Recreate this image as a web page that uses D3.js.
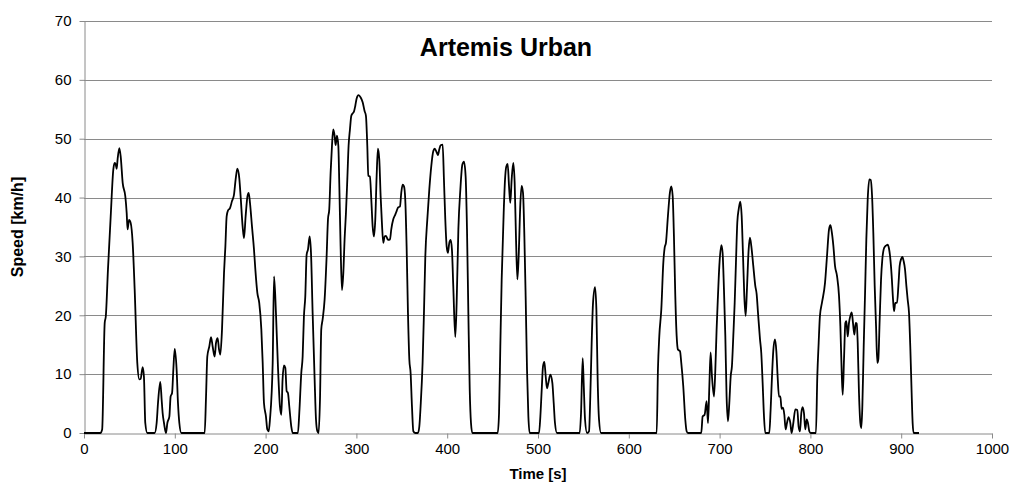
<!DOCTYPE html>
<html>
<head>
<meta charset="utf-8">
<script src="https://cdn.jsdelivr.net/npm/d3@7"></script>
<style>
  html, body { margin: 0; padding: 0; background: #fff; }
  svg { display: block; }
</style>
</head>
<body>
<svg id="chart" width="1013" height="483"></svg>
<script>
// ---- data ----
const chartTitle = "Artemis Urban";
const xAxisTitle = "Time [s]";
const yAxisTitle = "Speed [km/h]";
const xTickValues = [0, 100, 200, 300, 400, 500, 600, 700, 800, 900, 1000];
const yTickValues = [0, 10, 20, 30, 40, 50, 60, 70];

const timeSeconds = [
  0, 18, 20, 22.8, 24, 26.4, 29.4, 32.3, 33.8, 35, 36, 37, 38.9, 40.4, 42.6, 45.5, 47, 48, 49.6, 51.4,
  53.6, 55.8, 58.7, 61, 62.4, 64.6, 66, 67.5, 69.7, 77.8, 80, 81.5, 84, 85.5, 86.6, 88.1, 90.3, 91.8, 94, 95.4,
  97, 98.4, 99.9, 102, 103.5, 105, 107.2, 132.9, 134.4, 135.8, 138, 139.9, 141.7, 143.9, 145.4, 147.2, 148.7, 150.1, 152, 154.2,
  155.7, 157.1, 158.6, 160.8, 163, 165.2, 167, 168.9, 171, 172.5, 174.7, 176.2, 178, 180, 181.4, 182.8, 185, 187.2, 188.7, 190.9,
  193, 195.3, 196.8, 198.2, 200.4, 201.9, 203.4, 204.8, 207.8, 209.3, 211.4, 213.6, 215.8, 217.3, 218.7, 220.2, 221.7, 223.2, 224.6, 226.1,
  228.3, 229.8, 235.6, 237.1, 239.3, 240.8, 242.2, 243.7, 245.2, 246.7, 248.5, 250, 251.8, 254, 255.5, 257, 258.4, 259.9, 261.3, 262.8,
  265, 267.2, 268.7, 270.1, 271.6, 273.1, 274.5, 276, 277.1, 278.6, 280.1, 281.2, 282.6, 284.1, 285.6, 287, 288.5, 290, 291.4, 292.9,
  294.4, 295.8, 297.3, 298.8, 300.2, 302.4, 304.7, 306.9, 309, 310.5, 312, 313.1, 314.9, 316.4, 317.9, 319.3, 320.8, 322.3, 323.7, 325.2,
  326.7, 328.1, 329.6, 331.1, 332.6, 334.8, 337, 338.4, 340.6, 342.8, 344.3, 345.8, 348, 349.4, 350.9, 352.4, 353.8, 355.3, 356.8, 358.3,
  359.7, 361.2, 362.7, 364.9, 367.8, 369.3, 370.7, 372.9, 374.4, 375.9, 378.1, 380.3, 382.5, 384.7, 386.2, 388.4, 389.8, 391.3, 392.8, 395,
  396.4, 397.9, 399.4, 400.8, 402.3, 403.8, 405.2, 406.7, 408.9, 410.4, 412.3, 414.5, 416.7, 418.5, 420.3, 421.8, 423.3, 424.8, 426.2, 427.7,
  455.6, 457.1, 458.5, 460, 462.2, 463.7, 465.1, 466.6, 468.1, 469.5, 471, 472.8, 474.3, 475.8, 477.3, 478.7, 480.6, 482, 483.5, 485,
  486.4, 487.9, 489.4, 490.8, 501.1, 502.6, 504.1, 505.5, 507, 508.5, 509.9, 511.4, 513.6, 515.8, 517.3, 518.7, 520.9, 545.9, 547.4, 549.2,
  550.3, 551.8, 554, 556.2, 557.6, 559.1, 560.6, 562.8, 564.3, 565.7, 567.2, 569.4, 630.7, 632.1, 633.6, 635.8, 638, 639.5, 640.9, 643.1,
  645.3, 646.8, 648.3, 649.7, 651.2, 652.7, 654.1, 656.4, 657.8, 660, 662.2, 663.7, 665.2, 679.8, 681.3, 683.5, 685.7, 687.2, 688.7, 690.1,
  691.6, 693.8, 695.3, 696.7, 698.2, 699.7, 701.9, 703.3, 704.8, 706.3, 707.7, 709.2, 710.7, 712.2, 713.6, 715.1, 716.6, 718, 719.5, 721,
  722.8, 724.3, 725.7, 727.2, 728.7, 730.1, 732, 733.4, 734.9, 737.1, 739.3, 740.8, 742.3, 744.5, 745.9, 747.4, 748.9, 750.3, 754.7, 756.2,
  757.7, 759.1, 761, 762.5, 763.9, 765.4, 766.9, 768.3, 769.8, 771.3, 772.7, 774.2, 776, 777.9, 779.3, 781.2, 783.4, 785.6, 787, 788.5,
  790, 791.4, 792.9, 794.4, 795.9, 797.3, 798.8, 800.3, 806.1, 807.6, 809.1, 810.5, 812.7, 816.1, 818.3, 820.5, 822, 823.4, 825.3, 827.1,
  829.3, 831.5, 833, 834.5, 835.6, 837, 838.5, 839.6, 841.1, 842.5, 844, 845.5, 846.9, 848.4, 849.9, 851, 852.1, 853.5, 855, 856.1,
  857.2, 858.7, 860.2, 861.6, 863.1, 864.9, 866.4, 867.9, 869.3, 870.8, 872.3, 873.7, 874.8, 876.3, 877.8, 879.2, 880.7, 882.2, 884, 885.1,
  886.6, 888.1, 889.5, 891, 892.1, 893.5, 895.4, 896.9, 898.3, 899.8, 901.3, 902.7, 904.2, 905.7, 907.1, 908.6, 910.1, 911.5, 912.6, 913.7,
  919.6
];

const speedKmh = [
  0, 0, 0.6, 18.7, 19.8, 27.8, 36.8, 44.8, 45.9, 45.6, 44.9, 46.5, 48.4, 47, 42.5, 40.2, 37.4, 34.6, 36.2, 35.7,
  32.3, 24.4, 11.9, 9.1, 9.2, 11.2, 9.6, 1.7, 0, 0, 1.7, 5.1, 8.7, 5.7, 3.4, 1.7, 0, 1.7, 2.8, 6.2,
  6.8, 10.8, 14.3, 10.8, 5.1, 1.7, 0, 0, 6.2, 13, 14.7, 16.3, 14.7, 13, 15.3, 16.1, 14.2, 13.3, 17.6, 27.2,
  31.7, 36.8, 37.8, 38.2, 39.4, 40.5, 43.1, 44.9, 43.3, 40.2, 35.1, 33.1, 36.8, 40.2, 40.8, 39.1, 35.1, 31.2, 27.8, 23.8,
  22.1, 17.6, 11.9, 5.1, 2.8, 0.6, 0.3, 2.3, 11.9, 26.6, 20.4, 11.3, 4.5, 3.1, 9.1, 11.5, 11.1, 7.1, 6.8, 4.5,
  1.1, 0, 0, 3.4, 10.2, 13, 19.8, 23.2, 30.3, 31.2, 33.4, 30.6, 20.4, 9.1, 2.3, 0.3, 0, 5.7, 17.6, 19.3,
  22.7, 30, 36.3, 38, 44.2, 48.8, 51.6, 50.5, 48.9, 50.5, 48.8, 42, 31.7, 24.3, 27.2, 32.9, 37.4, 43.1, 48.8, 51.6,
  53.9, 54.3, 54.6, 55.6, 56.8, 57.4, 57, 56.2, 54.7, 53.9, 48.8, 43.7, 43.6, 39.7, 35.1, 33.4, 36.3, 43.7, 48.3, 46.5,
  40.2, 35.7, 32.3, 33.4, 33.5, 32.8, 32.9, 34.6, 36.3, 37.1, 37.7, 38.3, 38.5, 40.8, 42.2, 41.9, 39.7, 31.7, 20.4, 12.5,
  10.2, 4.5, 0.3, 0, 0, 1.1, 4.5, 11.9, 20.4, 30, 36.3, 41.4, 45.4, 47.9, 48.3, 47.7, 47.2, 48.2, 48.9, 49,
  43.1, 36.3, 31.7, 30.6, 32.3, 32.8, 31.2, 24.9, 16.3, 22.1, 34.6, 41.4, 45.6, 46.1, 43.6, 34.6, 20.4, 7.4, 1.7, 0,
  0, 3.4, 14.7, 26.1, 37.4, 43.1, 45.3, 45.7, 41.9, 39.1, 43.1, 45.9, 42.5, 32.9, 26.1, 30, 39.1, 42, 40.8, 33.4,
  23.2, 10.8, 2.8, 0, 0, 2.8, 7.4, 11.3, 12.1, 9.6, 7.6, 8.5, 9.9, 8.5, 5.1, 1.7, 0, 0, 3.4, 12.7,
  8.5, 2.3, 0, 0.3, 6.2, 15.3, 22.1, 24.8, 21, 9.1, 2.3, 0, 0, 10.8, 16.5, 21, 28.9, 31.5, 32.3, 36.9,
  40.9, 41.9, 40.3, 33.5, 23.3, 16.5, 14.2, 13.9, 11.9, 7.9, 2.3, 0.3, 0, 0, 2.8, 3.1, 5.4, 1.7, 7.9, 13.7,
  9.6, 6.2, 10.8, 17.6, 23.3, 28.4, 31.9, 30.6, 24.4, 16.5, 6.2, 2, 5.1, 9.6, 11.4, 16.5, 22.1, 28.9, 35.8, 38,
  39.3, 36.9, 30.6, 23.3, 19.9, 24.4, 31.2, 33.2, 31.8, 28.4, 25, 23.6, 20.4, 15.9, 13.6, 8.5, 2.8, 0, 0, 4,
  9.6, 13.9, 15.9, 13.9, 9.6, 6.2, 6.2, 4.1, 4.3, 3.1, 0.6, 1.7, 2.7, 1.7, 0, 1.7, 4, 3.9, 1.1, 0.3,
  3.4, 4.4, 3.4, 0.6, 2.3, 1.7, 0.3, 0, 0, 9.6, 15.3, 19.9, 22.1, 25.5, 30.1, 34.6, 35.3, 34.3, 31.8, 28.4,
  26.7, 23.3, 18.2, 10.2, 6.5, 12.5, 18.7, 19, 16.4, 18.7, 19.9, 20.5, 18.7, 16.7, 18.7, 18.6, 15.3, 6.8, 1.7, 0.85,
  4.5, 14.7, 23.8, 32.9, 39.7, 43.1, 43, 40.3, 34, 25, 18.2, 11.9, 12.5, 19.3, 26.1, 29.5, 31.2, 31.7, 31.9, 32,
  31.3, 29.5, 26.7, 22.7, 20.7, 22.1, 22.1, 25, 28.4, 29.5, 29.9, 29.2, 27.8, 25, 22.7, 20.4, 14.2, 6.8, 1.7, 0,
  0
];

// ---- layout ----
const W = 1013, H = 483;
const margin = { left: 84, right: 21, top: 21, bottom: 50 };
const x0 = margin.left, x1 = W - margin.right, y0 = H - margin.bottom, y1 = margin.top;

const svg = d3.select("#chart");
const x = d3.scaleLinear().domain([0, 1000]).range([x0, x1]);
const y = d3.scaleLinear().domain([0, 70]).range([y0, y1]);

const gridColor = "#8a8a8a";
const fontFamily = "'Liberation Sans', Arial, sans-serif";

// gridlines
svg.append("g")
  .selectAll("line")
  .data(yTickValues.filter(d => d > 0))
  .join("line")
  .attr("x1", x0).attr("x2", x1)
  .attr("y1", d => Math.round(y(d)) + 0.5)
  .attr("y2", d => Math.round(y(d)) + 0.5)
  .attr("stroke", gridColor)
  .attr("stroke-width", 1);

// y axis
const yAxis = svg.append("g")
  .attr("transform", `translate(${x0 + 0.5},0)`)
  .call(d3.axisLeft(y).tickValues(yTickValues).tickFormat(d3.format("d"))
    .tickSize(5).tickSizeOuter(0).tickPadding(8));
// x axis
const xAxis = svg.append("g")
  .attr("transform", `translate(0,${Math.round(y0) + 0.5})`)
  .call(d3.axisBottom(x).tickValues(xTickValues).tickFormat(d3.format("d"))
    .tickSize(5).tickSizeOuter(0).tickPadding(5));

[yAxis, xAxis].forEach(g => {
  g.select(".domain").attr("stroke", gridColor);
  g.selectAll(".tick line").attr("stroke", gridColor);
  g.selectAll(".tick text")
    .attr("fill", "#000")
    .style("font-family", fontFamily)
    .style("font-size", "15px");
});

// the speed trace
const pts = timeSeconds.map((t, i) => [t, speedKmh[i]]);
const line = d3.line()
  .x(d => x(d[0]))
  .y(d => y(d[1]))
  .curve(d3.curveMonotoneX);

svg.append("path")
  .datum(pts)
  .attr("d", line)
  .attr("fill", "none")
  .attr("stroke", "#000")
  .attr("stroke-width", 1.8)
  .attr("stroke-linejoin", "round");

// titles
svg.append("text")
  .attr("x", 506).attr("y", 56)
  .attr("text-anchor", "middle")
  .style("font-family", fontFamily)
  .style("font-weight", "bold")
  .style("font-size", "25px")
  .text(chartTitle);

svg.append("text")
  .attr("x", (x0 + x1) / 2).attr("y", 479)
  .attr("text-anchor", "middle")
  .style("font-family", fontFamily)
  .style("font-weight", "bold")
  .style("font-size", "15px")
  .text(xAxisTitle);

svg.append("text")
  .attr("transform", `translate(23,${(y0 + y1) / 2}) rotate(-90)`)
  .attr("text-anchor", "middle")
  .style("font-family", fontFamily)
  .style("font-weight", "bold")
  .style("font-size", "16px")
  .text(yAxisTitle);
</script>
</body>
</html>
